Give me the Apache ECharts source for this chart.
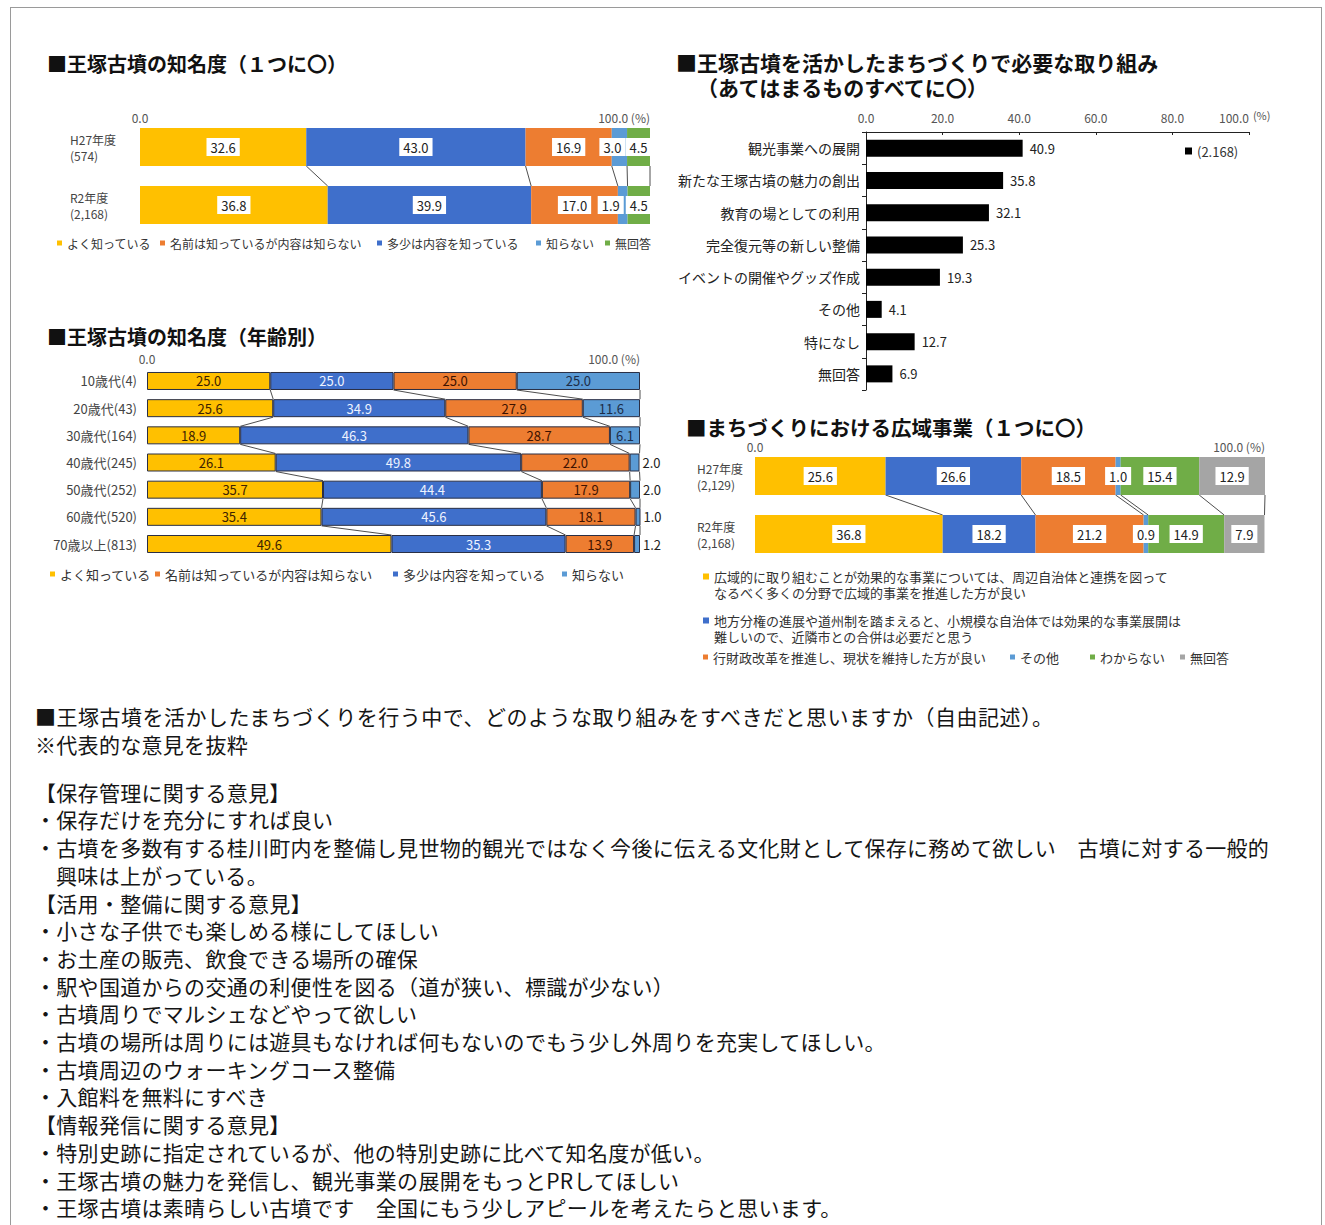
<!DOCTYPE html>
<html lang="ja">
<head>
<meta charset="utf-8">
<title>王塚古墳 アンケート結果</title>
<script src="https://cdn.jsdelivr.net/npm/echarts/dist/echarts.min.js"></script>
<style>
  html, body { margin: 0; padding: 0; background: #fff; }
  body { width: 1325px; height: 1225px; position: relative; overflow: hidden;
         font-family: "Noto Sans CJK JP", "Noto Sans CJK SC", sans-serif; }
  #frame { position: absolute; left: 10px; top: 7px; width: 1312px; height: 1300px;
           border: 1px solid #9a9a9a; box-sizing: border-box; }
  .chart { position: absolute; left: 0; top: 0; width: 1325px; height: 690px; }
  #notes { position: absolute; left: 35px; top: 703px; font-size: 21px; line-height: 27.7px;
           letter-spacing: 0.3px; color: #151515; white-space: nowrap; }
  #notes .lead { letter-spacing: 0.5px; }
  #notes .gap { margin-top: 20.3px; }
  #notes .cont { padding-left: 21px; }
</style>
</head>
<body>
<div id="frame"></div>
<div id="chartAware" class="chart"></div>
<div id="chartAge" class="chart"></div>
<div id="chartEffort" class="chart"></div>
<div id="chartWide" class="chart"></div>

<div id="notes">
  <div class="lead">■王塚古墳を活かしたまちづくりを行う中で、どのような取り組みをすべきだと思いますか（自由記述）。</div>
  <div>※代表的な意見を抜粋</div>
  <div class="gap">【保存管理に関する意見】</div>
  <div>・保存だけを充分にすれば良い</div>
  <div>・古墳を多数有する桂川町内を整備し見世物的観光ではなく今後に伝える文化財として保存に務めて欲しい　古墳に対する一般的</div>
  <div class="cont">興味は上がっている。</div>
  <div>【活用・整備に関する意見】</div>
  <div>・小さな子供でも楽しめる様にしてほしい</div>
  <div>・お土産の販売、飲食できる場所の確保</div>
  <div>・駅や国道からの交通の利便性を図る（道が狭い、標識が少ない）</div>
  <div>・古墳周りでマルシェなどやって欲しい</div>
  <div>・古墳の場所は周りには遊具もなければ何もないのでもう少し外周りを充実してほしい。</div>
  <div>・古墳周辺のウォーキングコース整備</div>
  <div>・入館料を無料にすべき</div>
  <div>【情報発信に関する意見】</div>
  <div>・特別史跡に指定されているが、他の特別史跡に比べて知名度が低い。</div>
  <div>・王塚古墳の魅力を発信し、観光事業の展開をもっとPRしてほしい</div>
  <div>・王塚古墳は素晴らしい古墳です　全国にもう少しアピールを考えたらと思います。</div>
</div>

<script>
// ---------- 王塚古墳の知名度（１つに〇） ----------
const awareYears = ['H27年度\n(574)', 'R2年度\n(2,168)'];
const awareWellKnown = [32.6, 36.8];   // よく知っている
const awareSomewhat = [43.0, 39.9];    // 多少は内容を知っている
const awareNameOnly = [16.9, 17.0];    // 名前は知っているが内容は知らない
const awareUnknown = [3.0, 1.9];       // 知らない
const awareNoAnswer = [4.5, 4.5];      // 無回答

// ---------- 王塚古墳の知名度（年齢別） ----------
const ageGroups = ['10歳代(4)', '20歳代(43)', '30歳代(164)', '40歳代(245)', '50歳代(252)', '60歳代(520)', '70歳以上(813)'];
const ageWellKnown = [25.0, 25.6, 18.9, 26.1, 35.7, 35.4, 49.6];
const ageSomewhat = [25.0, 34.9, 46.3, 49.8, 44.4, 45.6, 35.3];
const ageNameOnly = [25.0, 27.9, 28.7, 22.0, 17.9, 18.1, 13.9];
const ageUnknown = [25.0, 11.6, 6.1, 2.0, 2.0, 1.0, 1.2];

// ---------- まちづくりで必要な取り組み ----------
const effortItems = ['観光事業への展開', '新たな王塚古墳の魅力の創出', '教育の場としての利用', '完全復元等の新しい整備',
                     'イベントの開催やグッズ作成', 'その他', '特になし', '無回答'];
const effortRates = [40.9, 35.8, 32.1, 25.3, 19.3, 4.1, 12.7, 6.9];
const effortSample = '(2.168)';

// ---------- まちづくりにおける広域事業 ----------
const wideYears = ['H27年度\n(2,129)', 'R2年度\n(2,168)'];
const wideCooperate = [25.6, 36.8];
const wideMerge = [26.6, 18.2];
const wideKeep = [18.5, 21.2];
const wideOther = [1.0, 0.9];
const wideUnsure = [15.4, 14.9];
const wideNoAnswer = [12.9, 7.9];

// ---------- styling ----------
const FONT = '"Noto Sans CJK JP", "Noto Sans CJK SC", sans-serif';
const COLOR = { yellow: '#FFC000', blue: '#3F6FCB', orange: '#ED7D31', sky: '#5B9BD5', green: '#70AD47', gray: '#A5A5A5' };
const fix1 = v => Number(v).toFixed(1);

function titleAt(text, x, y, size) {
  return { text, left: x, top: y, padding: 0,
    textStyle: { fontFamily: FONT, fontSize: size, fontWeight: 'bold', color: '#111', lineHeight: size } };
}

function legendAt(name, x, centerY, fontSize, extra) {
  return Object.assign({
    data: [name], left: x, top: centerY - 8, padding: 0, icon: 'rect', itemWidth: 5, itemHeight: 5,
    selectedMode: false, itemStyle: { borderWidth: 0 },
    textStyle: { fontFamily: FONT, fontSize: fontSize, color: '#333', lineHeight: 16 }
  }, extra || {});
}

// Cumulative segment edges of each row, paired with the next row, for the connector lines
function connectorData(arrays) {
  const rows = arrays[0].length;
  const edges = [];
  for (let r = 0; r < rows; r++) {
    let s = 0;
    edges.push(arrays.map(a => { s += a[r]; return Math.min(s, 100); }));
  }
  const out = [];
  for (let r = 0; r < rows - 1; r++) {
    edges[r].forEach((v, k) => out.push([v, r, edges[r + 1][k]]));
  }
  return out;
}

function connectorSeries(arrays, barHeight) {
  return {
    type: 'custom', coordinateSystem: 'cartesian2d', silent: true, z: 1,
    data: connectorData(arrays),
    encode: { x: [0, 2], y: 1 },
    renderItem: function (params, api) {
      const a = api.coord([api.value(0), api.value(1)]);
      const b = api.coord([api.value(2), api.value(1) + 1]);
      return {
        type: 'line',
        shape: { x1: a[0], y1: a[1] + barHeight / 2, x2: b[0], y2: b[1] - barHeight / 2 },
        style: { stroke: '#3a3a3a', lineWidth: 0.9 }
      };
    }
  };
}

function stackedSeries(defs, barWidth, labelFor, itemStyleExtra) {
  return defs.map(d => ({
    name: d.name, type: 'bar', stack: 'total', barWidth: barWidth, z: 2,
    itemStyle: Object.assign({ color: d.color }, itemStyleExtra || {}),
    data: d.values.map((v, i) => ({ value: v, label: labelFor(d, v, i) })),
    label: { show: true }
  }));
}

function boxedLabel(shift) {
  return {
    show: true, position: 'inside', backgroundColor: '#fff', padding: [3, 4, 2, 4],
    color: '#222', fontSize: 13, fontFamily: FONT, textBorderWidth: 0,
    offset: [shift || 0, 0], formatter: p => fix1(p.value)
  };
}

function edgeValueAxis(labelMargin) {
  return {
    type: 'value', position: 'top', min: 0, max: 100, interval: 100,
    axisLine: { show: false }, axisTick: { show: false }, splitLine: { show: false },
    axisLabel: {
      formatter: v => (v === 100 ? '100.0 (%)' : fix1(v)), margin: labelMargin,
      color: '#555', fontSize: 12, fontFamily: FONT, alignMinLabel: 'center', alignMaxLabel: 'right'
    }
  };
}

function rowAxis(labels, margin, fontSize, align) {
  return {
    type: 'category', data: labels, inverse: true,
    axisLine: { show: false }, axisTick: { show: false },
    axisLabel: { align: align, margin: margin, color: '#444', fontSize: fontSize, lineHeight: 16, fontFamily: FONT }
  };
}

// ================= Chart: 知名度（１つに〇） =================
const awareDefs = [
  { name: 'よく知っている', values: awareWellKnown, color: COLOR.yellow },
  { name: '多少は内容を知っている', values: awareSomewhat, color: COLOR.blue },
  { name: '名前は知っているが内容は知らない', values: awareNameOnly, color: COLOR.orange },
  { name: '知らない', values: awareUnknown, color: COLOR.sky },
  { name: '無回答', values: awareNoAnswer, color: COLOR.green }
];
const awareLabelShift = { '知らない': [-7, -12] };
const awareLegendOrder = ['よく知っている', '名前は知っているが内容は知らない', '多少は内容を知っている', '知らない', '無回答'];
const awareLegendX = [57, 160, 377, 536, 605];

const awareChart = echarts.init(document.getElementById('chartAware'), null, { renderer: 'svg' });
awareChart.setOption({
  animation: false,
  title: titleAt('■王塚古墳の知名度（１つに〇）', 47, 53, 20),
  grid: { left: 140, width: 510, top: 118, height: 116, outerBoundsMode: 'none' },
  xAxis: edgeValueAxis(-5),
  yAxis: rowAxis(awareYears, 70, 12, 'left'),
  legend: awareLegendOrder.map((n, i) => legendAt(n, awareLegendX[i], 243, 12)),
  series: stackedSeries(awareDefs, 38, (d, v, i) => boxedLabel((awareLabelShift[d.name] || [])[i]))
    .concat([connectorSeries(awareDefs.map(d => d.values), 38)])
});

// ================= Chart: 知名度（年齢別） =================
const ageDefs = [
  { name: 'よく知っている', values: ageWellKnown, color: COLOR.yellow, text: '#3d2200' },
  { name: '多少は内容を知っている', values: ageSomewhat, color: COLOR.blue, text: '#eef3ff' },
  { name: '名前は知っているが内容は知らない', values: ageNameOnly, color: COLOR.orange, text: '#3d1200' },
  { name: '知らない', values: ageUnknown, color: COLOR.sky, text: '#1d2d48' }
];
const ageLegendOrder = ['よく知っている', '名前は知っているが内容は知らない', '多少は内容を知っている', '知らない'];
const ageLegendX = [50, 155, 393, 562];

const ageChart = echarts.init(document.getElementById('chartAge'), null, { renderer: 'svg' });
ageChart.setOption({
  animation: false,
  title: titleAt('■王塚古墳の知名度（年齢別）', 47, 326, 20),
  grid: { left: 147, width: 493, top: 367.4, height: 190.2, outerBoundsMode: 'none' },
  xAxis: edgeValueAxis(3),
  yAxis: rowAxis(ageGroups, 10, 13, 'right'),
  legend: ageLegendOrder.map((n, i) => legendAt(n, ageLegendX[i], 574, 13)),
  series: stackedSeries(ageDefs, 18, (d, v) => {
    const outside = v < 5;
    return {
      show: true, position: outside ? 'right' : 'inside', distance: 3,
      color: outside ? '#222' : d.text, fontSize: 13, fontFamily: FONT, textBorderWidth: 0,
      formatter: p => fix1(p.value)
    };
  }, { borderColor: '#2a2f45', borderWidth: 1 })
    .concat([connectorSeries(ageDefs.map(d => d.values), 18)])
});

// ================= Chart: まちづくりで必要な取り組み =================
const effortChart = echarts.init(document.getElementById('chartEffort'), null, { renderer: 'svg' });
effortChart.setOption({
  animation: false,
  title: [
    titleAt('■王塚古墳を活かしたまちづくりで必要な取り組み', 676, 51.5, 21),
    titleAt('（あてはまるものすべてに〇）', 697, 76.5, 21)
  ],
  grid: { left: 866, width: 383, top: 132, height: 258, outerBoundsMode: 'none' },
  xAxis: {
    type: 'value', position: 'top', min: 0, max: 100, interval: 20,
    axisLine: { show: true, lineStyle: { color: '#222', width: 1 } },
    axisTick: { show: true, inside: true, length: 3, lineStyle: { color: '#222' } },
    splitLine: { show: false },
    axisLabel: { formatter: fix1, margin: 9, color: '#555', fontSize: 12, fontFamily: FONT, alignMaxLabel: 'right' },
    name: '(%)', nameLocation: 'end', nameGap: -2,
    nameTextStyle: { fontSize: 11, color: '#555', fontFamily: FONT, verticalAlign: 'bottom', padding: [0, 0, 12, 0] }
  },
  yAxis: {
    type: 'category', data: effortItems, inverse: true,
    axisLine: { show: true, lineStyle: { color: '#222', width: 1 } },
    axisTick: { show: true, length: 4, lineStyle: { color: '#222' } },
    axisLabel: { margin: 6, color: '#222', fontSize: 14, fontFamily: FONT }
  },
  legend: legendAt(effortSample, 1185, 151, 13, { itemWidth: 7, itemHeight: 7 }),
  series: [{
    name: effortSample, type: 'bar', data: effortRates, barWidth: 17,
    itemStyle: { color: '#000' },
    label: { show: true, position: 'right', distance: 7, color: '#222', fontSize: 13, fontFamily: FONT, formatter: p => fix1(p.value) }
  }]
});

// ================= Chart: まちづくりにおける広域事業 =================
const wideDefs = [
  { name: '広域的に取り組むことが効果的な事業については、周辺自治体と連携を図って\nなるべく多くの分野で広域的事業を推進した方が良い', values: wideCooperate, color: COLOR.yellow },
  { name: '地方分権の進展や道州制を踏まえると、小規模な自治体では効果的な事業展開は\n難しいので、近隣市との合併は必要だと思う', values: wideMerge, color: COLOR.blue },
  { name: '行財政改革を推進し、現状を維持した方が良い', values: wideKeep, color: COLOR.orange },
  { name: 'その他', values: wideOther, color: COLOR.sky },
  { name: 'わからない', values: wideUnsure, color: COLOR.green },
  { name: '無回答', values: wideNoAnswer, color: COLOR.gray }
];
// Two-line legend entries: a tall icon box whose visible square sits at the top,
// so the marker lines up with the first line of text.
const twoLineLegend = {
  icon: 'path://M0,0H6V6H0Z M0,21H0.01V21.01H0Z', itemWidth: 6, itemHeight: 22
};
const wideLegends = [
  legendAt(wideDefs[0].name, 703, 576, 13, twoLineLegend),
  legendAt(wideDefs[1].name, 703, 620, 13, twoLineLegend),
  legendAt(wideDefs[2].name, 703, 657, 13),
  legendAt(wideDefs[3].name, 1010, 657, 13),
  legendAt(wideDefs[4].name, 1090, 657, 13),
  legendAt(wideDefs[5].name, 1180, 657, 13)
];

const wideChart = echarts.init(document.getElementById('chartWide'), null, { renderer: 'svg' });
wideChart.setOption({
  animation: false,
  title: titleAt('■まちづくりにおける広域事業（１つに〇）', 686, 417, 20.5),
  grid: { left: 755, width: 510, top: 447, height: 116, outerBoundsMode: 'none' },
  xAxis: edgeValueAxis(-5),
  yAxis: rowAxis(wideYears, 58, 12, 'left'),
  legend: wideLegends,
  series: stackedSeries(wideDefs, 38, () => boxedLabel(0))
    .concat([connectorSeries(wideDefs.map(d => d.values), 38)])
});
</script>
</body>
</html>
